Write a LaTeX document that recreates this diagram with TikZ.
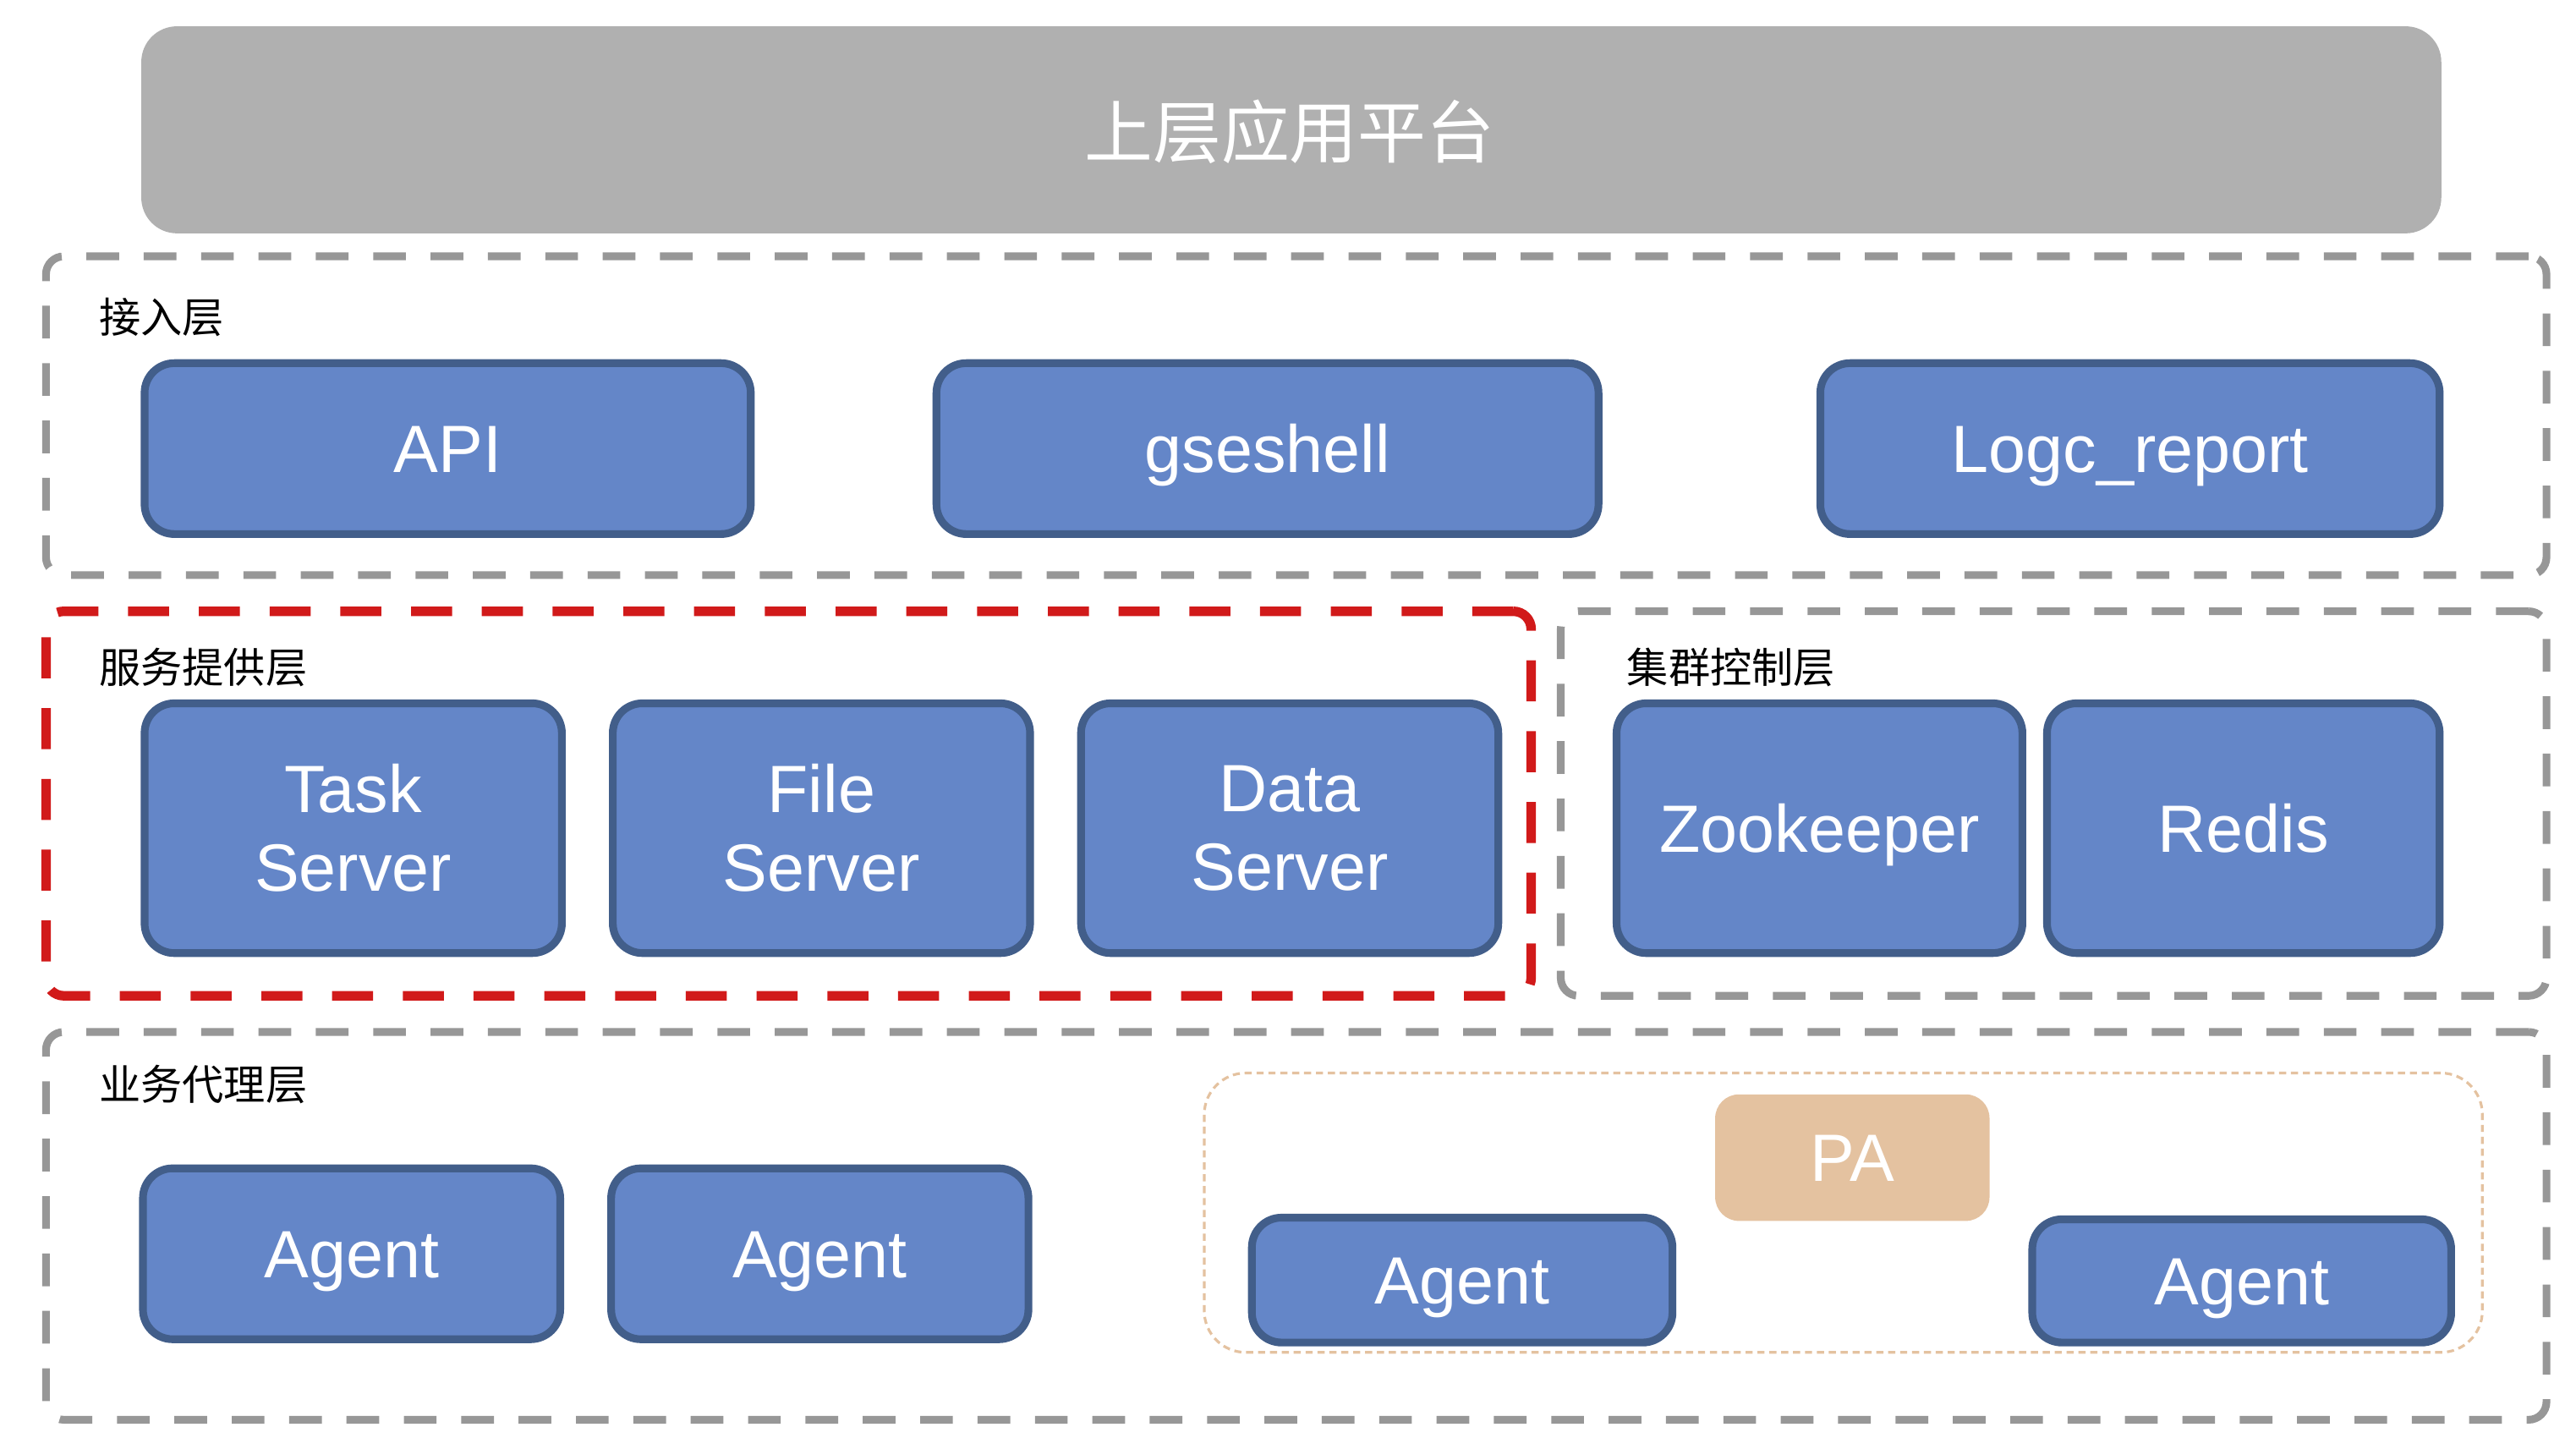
\documentclass[tikz,border=0pt]{standalone}
\usepackage{fontspec}
\setmainfont{Liberation Sans}
\newfontfamily\cjk{Noto Sans CJK SC}
\usetikzlibrary{fit}
\definecolor{boxfill}{HTML}{6486C8}
\definecolor{boxline}{HTML}{425E8A}
\definecolor{topgray}{HTML}{B0B0B0}
\definecolor{framegray}{HTML}{979797}
\definecolor{framered}{HTML}{D11A1A}
\definecolor{pafill}{HTML}{E4C2A0}
\begin{document}
\begin{tikzpicture}[x=0.019426cm, y=-0.019426cm,
  bluebox/.style={draw=boxline, fill=boxfill, line width=2.6pt, rounded corners=10pt, inner sep=0pt},
  boxtext/.style={text=white, inner sep=0pt, align=center, font=\fontsize{22.5}{26.5}\selectfont},
  onetext/.style={boxtext, text height=16pt, text depth=0pt},
  grayframe/.style={draw=framegray, line width=2.6pt, dash pattern=on 11pt off 8.3pt, rounded corners=6pt, inner sep=0pt},
  redframe/.style={draw=framered, line width=3.2pt, dash pattern=on 13.8pt off 10pt, rounded corners=6pt, inner sep=0pt},
  paframe/.style={draw=pafill, line width=0.9pt, dash pattern=on 2.4pt off 1.6pt, rounded corners=14pt, inner sep=0pt},
  pabox/.style={fill=pafill, rounded corners=8pt, inner sep=0pt},
  topbox/.style={fill=topgray, rounded corners=12pt, inner sep=0pt},
  toptext/.style={text=white, inner sep=0pt, font=\cjk\fontsize{23}{26}\selectfont},
  lbl/.style={anchor=west, inner sep=0pt, font=\cjk\fontsize{14}{16}\selectfont, text=black}
]
\useasboundingbox (0,0) rectangle (1568,881.3);

% top platform
\node[topbox, fit={(86,16) (1486,142)}] (top) {};
\node[toptext] (toptxt) at (785,80) {上层应用平台};

% access layer
\node[grayframe, fit={(28,156) (1550,350)}] (accessframe) {};
\node[lbl] (accesslbl) at (60,193) {接入层};
\node[bluebox, fit={(88,221) (457,325)}] (api) {};
\node[onetext] (apit) at (api.center) {API};
\node[bluebox, fit={(570,221) (973,325)}] (gseshell) {};
\node[onetext] (gseshellt) at (gseshell.center) {gseshell};
\node[bluebox, fit={(1108,221) (1485,325)}] (logc) {};
\node[onetext] (logct) at (logc.center) {Logc\_report};

% service layer
\node[redframe, fit={(28,372) (932,606)}] (serviceframe) {};
\node[lbl] (servicelbl) at (60,406) {服务提供层};
\node[bluebox, fit={(88,428) (342,580)}] (task) {};
\node[boxtext] (taskt) at (task.center) {Task\\Server};
\node[bluebox, fit={(373,428) (627,580)}] (file) {};
\node[boxtext] (filet) at (file.center) {File\\Server};
\node[bluebox, fit={(658,428) (912,580)}] (data) {};
\node[boxtext] (datat) at (data.center) {Data\\Server};

% cluster control layer
\node[grayframe, fit={(950,372) (1550,606)}] (clusterframe) {};
\node[lbl] (clusterlbl) at (990,406) {集群控制层};
\node[bluebox, fit={(984,428) (1231,580)}] (zk) {};
\node[onetext] (zkt) at (zk.center) {Zookeeper};
\node[bluebox, fit={(1246,428) (1485,580)}] (redis) {};
\node[onetext] (redist) at (redis.center) {Redis};

% agent layer
\node[grayframe, fit={(28,628) (1550,864)}] (agentframe) {};
\node[lbl] (agentlbl) at (60,660) {业务代理层};
\node[bluebox, fit={(87,711) (341,815)}] (agent1) {};
\node[onetext] (agent1t) at (agent1.center) {Agent};
\node[bluebox, fit={(372,711) (626,815)}] (agent2) {};
\node[onetext] (agent2t) at (agent2.center) {Agent};
\node[paframe, fit={(733,653) (1511,823)}] (paframe) {};
\node[pabox, fit={(1044,666) (1211,743)}] (pa) {};
\node[onetext] (pat) at (pa.center) {PA};
\node[bluebox, fit={(762,741) (1018,817)}] (agent3) {};
\node[onetext] (agent3t) at (agent3.center) {Agent};
\node[bluebox, fit={(1237,742) (1492,817)}] (agent4) {};
\node[onetext] (agent4t) at (agent4.center) {Agent};
\end{tikzpicture}
\end{document}
